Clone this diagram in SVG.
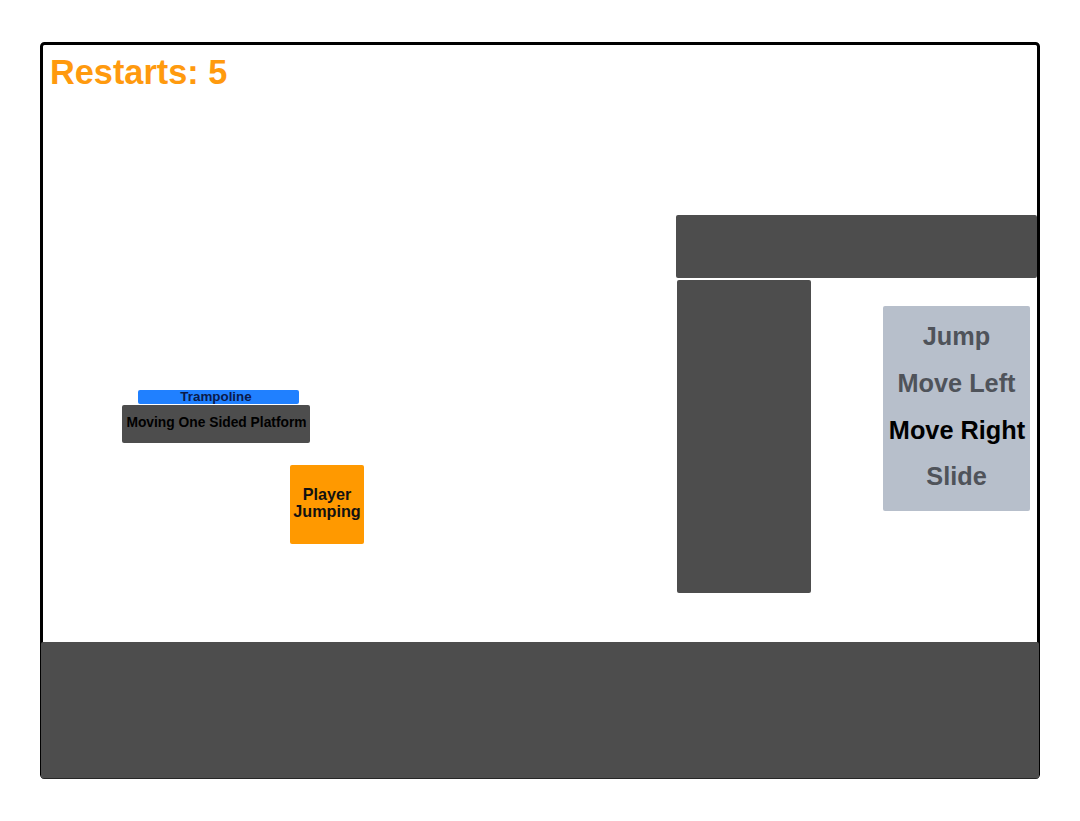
<svg xmlns="http://www.w3.org/2000/svg" width="1080" height="821" viewBox="0 0 1080 821">
<style>
.solid{fill:#4d4d4d}
.t{font-family:"Liberation Sans",Arial,sans-serif;font-weight:bold;text-anchor:middle}
.ctl{font-size:25.3px;fill:#4f535a}
</style>
<rect width="1080" height="821" fill="#ffffff"/>
<g id="frame"><rect x="41.5" y="43.5" width="997" height="734" rx="3" fill="#ffffff" stroke="#000" stroke-width="3"/></g>
<g id="floor"><rect class="solid" x="41" y="642" width="998" height="136.5" rx="2"/></g>
<g id="restarts"><text x="50" y="84" font-family="Liberation Sans,Arial,sans-serif" font-weight="bold" font-size="34.3" fill="#ff9a0e">Restarts: 5</text></g>
<g id="ceiling"><rect class="solid" x="676" y="215" width="361" height="63" rx="2"/></g>
<g id="pillar"><rect class="solid" x="677" y="280" width="134" height="313" rx="2"/></g>
<g id="controls">
<rect x="883" y="306" width="147" height="205" rx="2" fill="#b7bfcb"/>
<text class="t ctl" x="956.5" y="345">Jump</text>
<text class="t ctl" x="956.5" y="392">Move Left</text>
<text class="t" x="957" y="439" font-size="25.3" fill="#000">Move Right</text>
<text class="t ctl" x="956.5" y="485">Slide</text>
</g>
<g id="trampoline"><rect x="138" y="390" width="161" height="14" rx="2" fill="#2080ff"/>
<text class="t" x="216" y="401" font-size="13.4" fill="#0b1a4a">Trampoline</text></g>
<g id="platform"><rect class="solid" x="122" y="405" width="188" height="38" rx="2"/>
<text class="t" x="216.5" y="427" font-size="13.8" fill="#000">Moving One Sided Platform</text></g>
<g id="player"><rect x="290" y="465" width="74" height="79" rx="2" fill="#ff9900"/>
<text class="t" x="327" y="500" font-size="16.2" fill="#111">Player</text>
<text class="t" x="327" y="517" font-size="16.2" fill="#111">Jumping</text></g>
<g id="connectors"></g>
</svg>
